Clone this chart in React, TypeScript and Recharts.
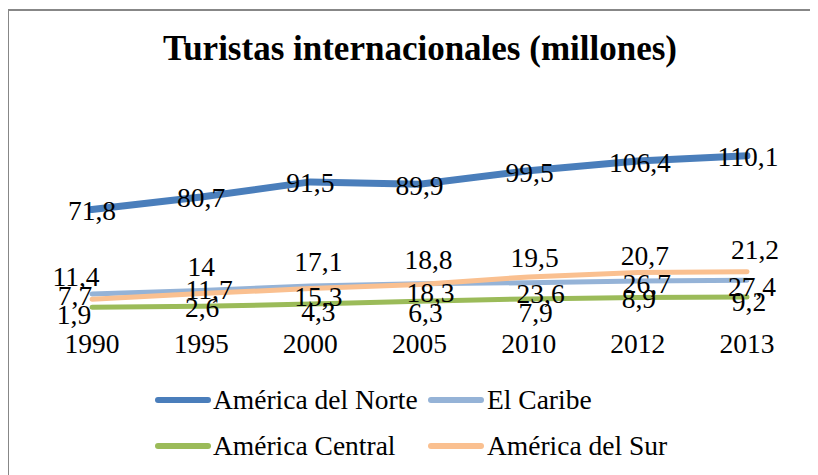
import React from "react";
import { LineChart, Line, XAxis, YAxis, LabelList } from "recharts";

const years = ["1990", "1995", "2000", "2005", "2010", "2012", "2013"];
const norte = [71.8, 80.7, 91.5, 89.9, 99.5, 106.4, 110.1];
const caribe = [11.4, 14, 17.1, 18.8, 19.5, 20.7, 21.2];
const central = [1.9, 2.6, 4.3, 6.3, 7.9, 8.9, 9.2];
const sur = [7.7, 11.7, 15.3, 18.3, 23.6, 26.7, 27.4];

const seriesNames = ["América del Norte", "El Caribe", "América Central", "América del Sur"];
const seriesKeys = ["norte", "caribe", "central", "sur"];

const data = years.map((y, i) => ({
  year: y,
  norte: norte[i],
  caribe: caribe[i],
  central: central[i],
  sur: sur[i],
}));

const FONT = "'Liberation Serif', 'Times New Roman', serif";
const FS = 27.5;

type Style = {
  color: string;
  width: number;
  labelDx: number[];
  labelDy: number[];
};

// label offsets (style only): shift of each data label's centre from its point
const styles: Record<string, Style> = {
  norte: {
    color: "#4A7EBB",
    width: 7,
    labelDx: [0, 0, 0, 0, 1, 2, 1],
    labelDy: [2, 1, 1, 2, 2, 2, 1],
  },
  caribe: {
    color: "#95B3D7",
    width: 5,
    labelDx: [-16, 0, 8, 9, 6, 7, 8],
    labelDy: [-17, -23, -24, -24, -25, -25, -30],
  },
  central: {
    color: "#9BBB59",
    width: 5,
    labelDx: [-18, 1, 8, 6, 7, 1, 2],
    labelDy: [8, 2, 8, 12, 14, 1, 5],
  },
  sur: {
    color: "#FAC090",
    width: 5,
    labelDx: [-17, 8, 8, 11, 12, 9, 5],
    labelDy: [-3, -4, 8, 9, 17, 11, 15],
  },
};

const fmt = (v: any) => String(v).replace(".", ",");

const makeLabel = (s: Style) => (props: any) => {
  const vb = props.viewBox || {};
  const px = typeof props.x === "number" ? props.x : vb.x;
  const py = typeof props.y === "number" ? props.y : vb.y;
  if (typeof px !== "number" || typeof py !== "number") return null;
  const i = props.index ?? 0;
  const dx = s.labelDx[i] ?? 0;
  const dy = s.labelDy[i] ?? 0;
  return (
    <text
      x={px + dx}
      y={py + dy + 9}
      textAnchor="middle"
      fill="#000"
      fontFamily={FONT}
      fontSize={FS}
    >
      {fmt(props.value)}
    </text>
  );
};

const legendPos = [
  { ix: 146, tx: 204, y: 389 },
  { ix: 419, tx: 478, y: 389 },
  { ix: 146, tx: 204, y: 435 },
  { ix: 419, tx: 478, y: 435 },
];

export default function App() {
  return (
    <div
      style={{
        position: "relative",
        marginLeft: -1,
        marginTop: 1,
        width: 820,
        height: 470,
        border: "2px solid #878787",
        background: "#fff",
      }}
    >
      <style>{"html,body{overflow:hidden;}"}</style>
      <LineChart
        width={820}
        height={470}
        data={data}
        margin={{ top: 131, right: 0, left: 0, bottom: 131 }}
      >
        <XAxis
          dataKey="year"
          axisLine={false}
          tickLine={false}
          tickSize={0}
          tickMargin={23}
          height={40}
          interval={0}
          padding={{ left: 83, right: 82 }}
          tick={{ fill: "#000", fontSize: FS, fontFamily: FONT }}
        />
        <YAxis hide domain={[0, 120]} width={0} />
        {seriesKeys.map((k, i) => (
          <Line
            key={k}
            dataKey={k}
            name={seriesNames[i]}
            type="linear"
            stroke={styles[k].color}
            strokeWidth={styles[k].width}
            strokeLinecap="round"
            dot={false}
            activeDot={false}
            isAnimationActive={false}
          >
            <LabelList dataKey={k} content={makeLabel(styles[k])} />
          </Line>
        ))}
      </LineChart>
      <svg
        width={820}
        height={470}
        style={{ position: "absolute", left: 0, top: 0, pointerEvents: "none" }}
      >
        <text
          x={411}
          y={49}
          textAnchor="middle"
          fontFamily={FONT}
          fontWeight="bold"
          fontSize={35}
          fill="#000"
        >
          Turistas internacionales (millones)
        </text>
        {seriesKeys.map((k, i) => {
          const p = legendPos[i];
          return (
            <g key={k}>
              <line
                x1={p.ix + 3}
                x2={p.ix + 53}
                y1={p.y}
                y2={p.y}
                stroke={styles[k].color}
                strokeWidth={6}
                strokeLinecap="round"
              />
              <text x={p.tx} y={p.y + 9} fontFamily={FONT} fontSize={FS} fill="#000">
                {seriesNames[i]}
              </text>
            </g>
          );
        })}
      </svg>
    </div>
  );
}
